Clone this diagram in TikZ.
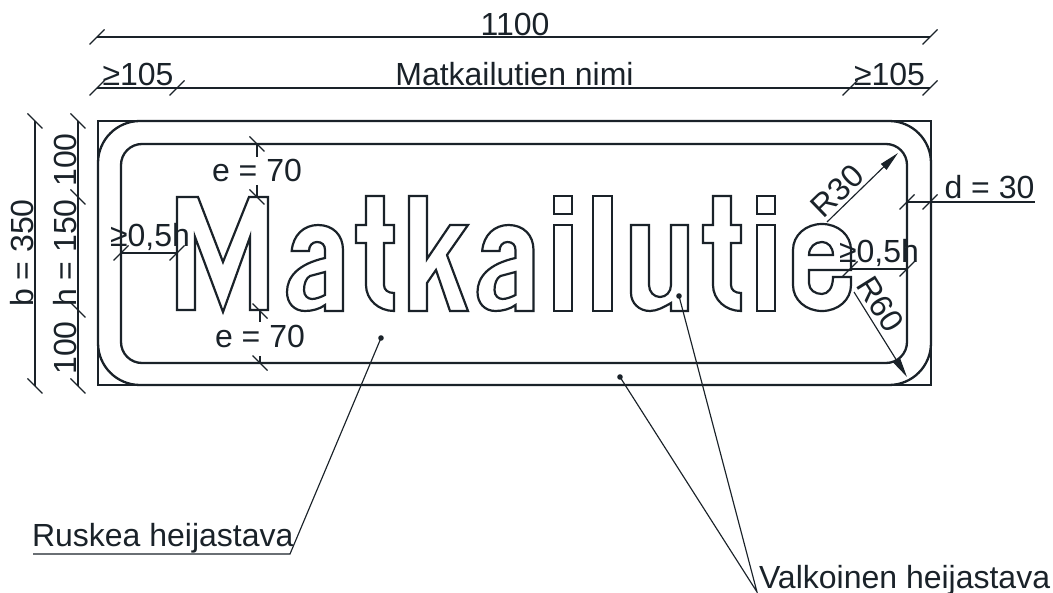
\documentclass[tikz,border=0pt]{standalone}
\usepackage{fontspec}
\setmainfont{Liberation Sans}
\usetikzlibrary{arrows.meta}
\definecolor{ink}{HTML}{1A2229}
\tikzset{
  x=1pt,y=-1pt,
  every node/.style={font=\fontsize{32}{32}\selectfont,text=ink,inner sep=0pt,outer sep=0pt},
  thin line/.style={draw=ink,line width=1.15pt},
  frame line/.style={draw=ink,line width=1.9pt},
  heavy line/.style={draw=ink,line width=2.3pt,line join=miter},
  letter/.style={draw=ink,line width=2.2pt,line join=miter},
  arrowed/.style={thin line,-{Triangle[length=20pt,width=8pt]}},
  leader/.style={thin line},
  tick/.pic={\draw[ink,line width=1.15pt] (-7.5,7.5) -- (7.5,-7.5);},
  rtick/.pic={\draw[ink,line width=1.15pt] (-7.5,-7.5) -- (7.5,7.5);},
  ltra/.pic={
    \path[letter] (291.7,251) .. controls (293,235) and (304,225) .. (318,225)
      .. controls (333,225) and (343,235) .. (343,250) -- (343,311) -- (325,311) -- (325,305)
      .. controls (320,309) and (312,311) .. (305,311)
      .. controls (294,311) and (287,303) .. (287,292)
      .. controls (287,277) and (298,264) .. (325,258) -- (325,250)
      .. controls (325,245) and (322,242) .. (317,242)
      .. controls (312,242) and (309,246) .. (309,251) -- cycle;
    \path[letter] (325,272) -- (310,276) .. controls (306,278) and (304,284) .. (304,290)
      .. controls (304,296) and (308,299) .. (312,299)
      .. controls (316,299) and (321,297) .. (325,295) -- cycle;
  },
  ltrt/.pic={
    \path[letter] (366,196) -- (384,196) -- (384,225) -- (394,225) -- (394,243) -- (384,243) -- (384,285)
      .. controls (384,290) and (388,293) .. (394,293) -- (394,311)
      .. controls (379,311) and (366,300) .. (366,285) -- (366,243) -- (356,243) -- (356,225) -- (366,225) -- cycle;
  },
  ltri/.pic={
    \path[letter] (554,196) rectangle (572,214);
    \path[letter] (554,225) rectangle (572,311);
  }
}
\begin{document}
\begin{tikzpicture}
\useasboundingbox (0,0) rectangle (1053,593);
% sign frame
\draw[frame line] (98,121) rectangle (931,385);
\path[heavy line] (98,163) arc[start angle=180,end angle=270,radius=42] -- (889,121) arc[start angle=270,end angle=360,radius=42] -- (931,343) arc[start angle=0,end angle=90,radius=42] -- (140,385) arc[start angle=90,end angle=180,radius=42] -- cycle;
\path[heavy line] (121,165) arc[start angle=180,end angle=270,radius=21] -- (886,144) arc[start angle=270,end angle=360,radius=21] -- (907,342) arc[start angle=0,end angle=90,radius=21] -- (142,363) arc[start angle=90,end angle=180,radius=21] -- cycle;
% letters
\path[letter] (177,197) -- (198,197) -- (223,262) -- (249,197) -- (268,197) -- (268,310) -- (250,310) -- (250,237) -- (223,312) -- (195,237) -- (195,310) -- (177,310) -- cycle;
\pic at (0,0) {ltra};
\pic at (0,0) {ltrt};
\path[letter] (409,196) -- (427,196) -- (427,259) -- (450,225) -- (468,225) -- (447,255) -- (468,311) -- (450,311) -- (436,270) -- (427,283) -- (427,311) -- (409,311) -- cycle;
\pic at (190.5,0) {ltra};
\pic at (0,0) {ltri};
\path[letter] (593,196) rectangle (612,311);
\path[letter] (631,225) -- (649,225) -- (649,285) .. controls (649,292) and (654,297) .. (660,297) .. controls (666,297) and (671,292) .. (671,285) -- (671,225) -- (688,225) -- (688,311) -- (671,311) -- (671,303) .. controls (664,307) and (657,311) .. (650,311) .. controls (639,311) and (631,303) .. (631,293) -- cycle;
\pic at (347,0) {ltrt};
\pic at (203,0) {ltri};
\path[letter] (851,270) -- (851,250) .. controls (851,235) and (838,224) .. (822,224) .. controls (806,224) and (793,235) .. (793,250) -- (793,285) .. controls (793,300) and (806,311) .. (822,311) .. controls (838,311) and (851,300) .. (851,285) -- (851,277) -- (833,277) .. controls (833,288) and (828,294) .. (822,294) .. controls (815,294) and (809,290) .. (809,283) -- (809,270) -- cycle;
\path[letter] (809,255) -- (833,255) .. controls (833,247) and (828,242) .. (822,242) .. controls (815,242) and (809,247) .. (809,255) -- cycle;
% overall width
\coordinate (w1) at (97,37); \coordinate (w2) at (930,37);
\draw[thin line] (w1) -- (w2);
\pic at (w1) {tick}; \pic at (w2) {tick};
\node (wtxt) [anchor=base] at (515,36) {1100};
% second row
\coordinate (m1) at (97,88); \coordinate (m2) at (177,88); \coordinate (m3) at (850,88); \coordinate (m4) at (930,88);
\draw[thin line] (m1) -- (m4);
\foreach \c in {m1,m2,m3,m4} \pic at (\c) {tick};
\node (a105) [anchor=base] at (138,86) {≥105};
\node (mname) [anchor=base] at (514.5,86) {Matkailutien nimi};
\node (b105) [anchor=base] at (889.5,86) {≥105};
% b dimension
\coordinate (b1) at (35,121); \coordinate (b2) at (35,386);
\draw[thin line] (b1) -- (b2);
\pic at (b1) {rtick}; \pic at (b2) {rtick};
\node (btxt) [anchor=base,rotate=90] at (33,253) {b = 350};
% h chain
\coordinate (c1) at (78,121); \coordinate (c2) at (78,197); \coordinate (c3) at (78,310); \coordinate (c4) at (78,386);
\draw[thin line] (c1) -- (c4);
\foreach \c in {c1,c2,c3,c4} \pic at (\c) {rtick};
\node (c100a) [anchor=base,rotate=90] at (76,160) {100};
\node (chtxt) [anchor=base,rotate=90] at (76,253) {h = 150};
\node (c100b) [anchor=base,rotate=90] at (76,348) {100};
% e dimensions
\coordinate (e1) at (257,144); \coordinate (e1a) at (257,157); \coordinate (e2a) at (257,185); \coordinate (e2) at (257,197);
\draw[thin line] (e1) -- (e1a) (e2a) -- (e2);
\pic at (e1) {rtick}; \pic at (e2) {rtick};
\node (etop) [anchor=base] at (257,182) {e = 70};
\coordinate (e3) at (260,311); \coordinate (e3a) at (260,322); \coordinate (e4a) at (260,356); \coordinate (e4) at (260,363);
\draw[thin line] (e3) -- (e3a) (e4a) -- (e4);
\pic at (e3) {rtick}; \pic at (e4) {rtick};
\node (ebot) [anchor=base] at (260,348) {e = 70};
% 0,5h
\coordinate (l1) at (121,253); \coordinate (l2) at (177,253);
\draw[thin line] (l1) -- (l2);
\pic at (l1) {tick}; \pic at (l2) {tick};
\node (ltxt) [anchor=base] at (150,247) {≥0,5h};
\coordinate (r1) at (850,269); \coordinate (r2) at (907,269);
\draw[thin line] (r1) -- (r2);
\pic at (r1) {tick}; \pic at (r2) {tick};
\node (rtxt) [anchor=base] at (879,263) {≥0,5h};
% d
\coordinate (d1) at (907,202); \coordinate (d2) at (930,202); \coordinate (d3) at (1035,202);
\draw[thin line] (d1) -- (d3);
\pic at (d1) {tick}; \pic at (d2) {tick};
\node (dtxt) [anchor=base] at (989.5,199) {d = 30};
% radii
\coordinate (ra) at (827,222); \coordinate (rb) at (898,153);
\draw[arrowed] (ra) -- (rb);
\node (r30) [anchor=base,rotate=44] at (845,199) {R30};
\coordinate (rc) at (854,292); \coordinate (rd) at (907,377);
\draw[arrowed] (rc) -- (rd);
\node (r60) [anchor=base,rotate=-58] at (871,310) {R60};
% leaders
\coordinate (p1) at (381,338); \coordinate (p2) at (290,554); \coordinate (p3) at (33,554);
\fill[ink] (p1) circle (2.8);
\draw[leader] (p1) -- (p2) -- (p3);
\node (rus) [anchor=base west] at (32,547) {Ruskea heijastava};
\coordinate (q0) at (757,592);
\coordinate (q1) at (620,377); \coordinate (q2) at (679,296);
\fill[ink] (q1) circle (2.8); \fill[ink] (q2) circle (2.8);
\draw[leader] (q1) -- (q0) -- (q2);
\node (val) [anchor=base west] at (759,588) {Valkoinen heijastava};
\end{tikzpicture}
\end{document}
